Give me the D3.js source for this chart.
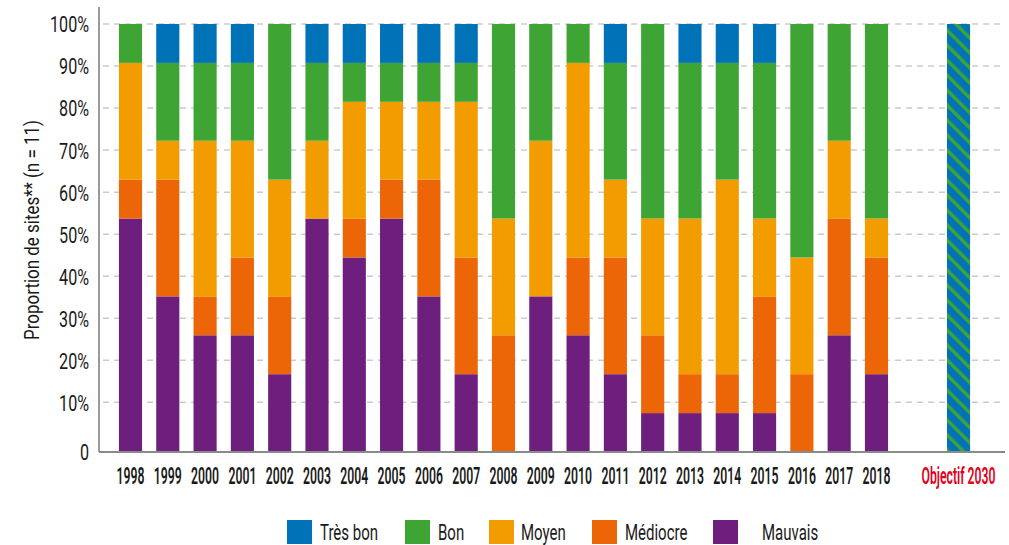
<!DOCTYPE html>
<html>
<head>
<meta charset="utf-8">
<script src="https://cdn.jsdelivr.net/npm/d3@7"></script>
<style>
  html, body { margin: 0; padding: 0; background: #fff; }
  svg text { font-family: "Roboto", "Liberation Sans", sans-serif; }
</style>
</head>
<body>
<svg id="chart" width="1009" height="545"></svg>
<script>
// Number of monitored sites
const N_SITES = 11;

const years = ["1998","1999","2000","2001","2002","2003","2004","2005","2006","2007",
               "2008","2009","2010","2011","2012","2013","2014","2015","2016","2017","2018"];
const targetLabel = "Objectif 2030";

// Site counts per quality class, one entry per year
const mauvais   = [6,4,3,3,2,6,5,6,4,2,0,4,3,2,1,1,1,1,0,3,2];
const mediocre  = [1,3,1,2,2,0,1,1,3,3,3,0,2,3,2,1,1,3,2,3,3];
const moyen     = [3,1,4,3,3,2,3,2,2,4,3,4,5,2,3,4,5,2,3,2,1];
const bon       = [1,2,2,2,4,2,1,1,1,1,5,3,1,3,5,4,3,4,6,3,5];
const tresBon   = [0,1,1,1,0,1,1,1,1,1,0,0,0,1,0,1,1,1,0,0,0];

const classNames  = ["Très bon", "Bon", "Moyen", "Médiocre", "Mauvais"];
const classColors = ["#0072b8", "#3ea535", "#f39c00", "#ec6608", "#6e1f7e"];

const yTicks = [0, 10, 20, 30, 40, 50, 60, 70, 80, 90, 100];

// Stack order from bottom to top
const stackKeys = ["Mauvais", "Médiocre", "Moyen", "Bon", "Très bon"];
const seriesByKey = { "Mauvais": mauvais, "Médiocre": mediocre, "Moyen": moyen, "Bon": bon, "Très bon": tresBon };
const colorOf = k => classColors[classNames.indexOf(k)];

const rows = years.map((yr, i) => {
  const r = { year: yr };
  stackKeys.forEach(k => r[k] = seriesByKey[k][i] / N_SITES * 100);
  return r;
});

const svg = d3.select("#chart");
const plotTop = 24, plotBottom = 452, axisX = 99, plotRight = 1005;

const x = d3.scaleBand()
  .domain([...years, "", targetLabel])
  .range([axisX, plotRight])
  .paddingInner(0.38)
  .paddingOuter(0.835)
  .align(0.32);

// Bars scale
const y = d3.scaleLinear().domain([0, 100]).range([plotBottom, plotTop]);
// Gridline / label scale: the zero label sits on the baseline, with a wider first interval
const yGrid = d3.scaleLinear().domain([0, 10, 100]).range([plotBottom, 402.3, plotTop]);

// Condensed text: horizontal squeeze so that a sample string reaches a given width
function squeeze(sample, size, weight, targetWidth) {
  const t = svg.append("text").attr("font-size", size).attr("font-weight", weight).text(sample);
  const w = t.node().getComputedTextLength();
  t.remove();
  return targetWidth / w;
}

// Hatched fill for the 2030 target
const defs = svg.append("defs");
const pat = defs.append("pattern")
  .attr("id", "hatch")
  .attr("patternUnits", "userSpaceOnUse")
  .attr("width", 10.6).attr("height", 10.6)
  .attr("patternTransform", "rotate(-45)");
pat.append("rect").attr("width", 10.6).attr("height", 10.6).attr("fill", classColors[0]);
pat.append("rect").attr("x", 0).attr("width", 3.4).attr("height", 10.6).attr("fill", classColors[1]);

// Gridlines
svg.append("g")
  .selectAll("line")
  .data(yTicks.filter(t => t > 0))
  .join("line")
  .attr("x1", axisX + 4).attr("x2", plotRight)
  .attr("y1", d => yGrid(d)).attr("y2", d => yGrid(d))
  .attr("stroke", "#cbcbcb")
  .attr("stroke-width", 1.5)
  .attr("stroke-dasharray", "6,5");

// Stacked bars
const stacked = d3.stack().keys(stackKeys)(rows);
svg.append("g")
  .selectAll("g")
  .data(stacked)
  .join("g")
  .attr("fill", d => colorOf(d.key))
  .selectAll("rect")
  .data(d => d)
  .join("rect")
  .attr("x", d => x(d.data.year))
  .attr("width", x.bandwidth())
  .attr("y", d => y(d[1]))
  .attr("height", d => y(d[0]) - y(d[1]));

// Target bar: all sites in good or very good state
const targetOffset = x.step() * 0.2;
svg.append("rect")
  .attr("x", x(targetLabel) + targetOffset)
  .attr("width", x.bandwidth())
  .attr("y", y(100))
  .attr("height", y(0) - y(100))
  .attr("fill", "url(#hatch)");

// Axis lines
svg.append("line")
  .attr("x1", axisX).attr("x2", axisX)
  .attr("y1", 7).attr("y2", plotBottom)
  .attr("stroke", "#9a9a9a").attr("stroke-width", 2);
svg.append("line")
  .attr("x1", axisX).attr("x2", plotRight)
  .attr("y1", plotBottom).attr("y2", plotBottom)
  .attr("stroke", "#8a8a8a").attr("stroke-width", 2);

// Y tick labels
const ySq = squeeze("100%", 22, 400, 39);
const yAxis = d3.axisLeft(yGrid).tickValues(yTicks).tickSize(0)
  .tickFormat(d => d === 0 ? "0" : d + "%");
const gy = svg.append("g").attr("transform", `translate(${axisX - 10},0)`).call(yAxis);
gy.select(".domain").remove();
gy.selectAll("text")
  .attr("font-size", 22)
  .attr("fill", "#1a1a1a")
  .attr("dy", "0.36em")
  .attr("x", 0)
  .attr("transform", `scale(${ySq},1)`);

// X tick labels
const xSq = squeeze("1998", 24, 600, 28);
const xAxis = d3.axisBottom(x).tickSize(0).tickValues([...years, targetLabel]);
const gx = svg.append("g").attr("transform", `translate(0,${plotBottom + 14.5})`).call(xAxis);
gx.select(".domain").remove();
gx.selectAll(".tick").filter(d => d === targetLabel)
  .attr("transform", `translate(${x(targetLabel) + x.bandwidth() / 2 + targetOffset},0)`);
gx.selectAll("text")
  .attr("font-size", 24)
  .attr("font-weight", 600)
  .attr("fill", d => d === targetLabel ? "#e2001a" : "#1a1a1a")
  .attr("dy", "0.71em")
  .attr("y", 0)
  .attr("transform", `scale(${xSq},1)`);

// Y axis title
const tSq = squeeze("Proportion de sites** (n = 11)", 20, 400, 220);
svg.append("text")
  .attr("transform", `translate(39,230) rotate(-90) scale(${tSq},1)`)
  .attr("text-anchor", "middle")
  .attr("font-size", 20)
  .attr("fill", "#1a1a1a")
  .text("Proportion de sites** (n = 11)");

// Legend
const lSq = squeeze("Très bon", 22, 400, 58);
const legendX = [287, 405, 489, 592, 713];
const legendTextX = [320, 438, 521, 625, 762];
const lg = svg.append("g");
classNames.forEach((name, i) => {
  lg.append("rect")
    .attr("x", legendX[i]).attr("y", 520)
    .attr("width", 25).attr("height", 24)
    .attr("fill", classColors[i]);
  lg.append("text")
    .attr("transform", `translate(${legendTextX[i]},532) scale(${lSq},1)`)
    .attr("dy", "0.36em")
    .attr("font-size", 22)
    .attr("fill", "#1a1a1a")
    .text(name);
});
</script>
</body>
</html>
